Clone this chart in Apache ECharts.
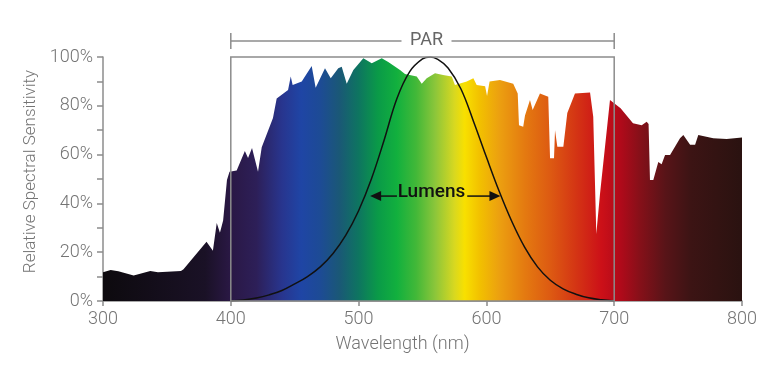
<!DOCTYPE html>
<html>
<head>
<meta charset="utf-8">
<script src="https://cdn.jsdelivr.net/npm/echarts@6/dist/echarts.min.js"></script>
<style>html,body{margin:0;padding:0;background:#fff}#c{width:780px;height:374px}</style>
</head>
<body>
<div id="c"></div>
<script>
// ---- data ----
const specNm = [300,306,312,324,337,343,361,363,381,386,389,391.5,394,397,399,404.6,411,413.5,416.6,421.3,424.2,433,435.9,444.8,446.9,448.4,455.5,463.3,466.4,473.7,478.2,484.1,486.8,490.7,495.9,503.7,510.3,518.1,523.2,532.4,536.3,545.5,549.4,553.3,559.8,566.1,572.9,575.4,584.6,589.8,592.4,599,600.5,602.5,610.6,621,624.5,625.5,628.8,630.2,634.1,636.2,641.9,648.4,649.8,652.9,653.7,655.5,660.2,663.3,669.3,681.1,683.6,686,688.9,696.7,705,714.7,721.5,725.4,726.9,728,730.6,734.5,737.1,739.8,743.7,751.5,754.1,759.4,763.3,765.8,777.5,788,800];
const specPct = [11.8,12.7,12.2,10.4,12.3,11.8,12.3,13,24.3,20.6,32,28,33,49.6,53,53.5,61.5,58.6,62.7,53,63,75,83,86.5,92,88.5,90,96.3,87.4,95.4,91.3,95.4,96,89,94.7,99.5,97.4,99.5,98,94.7,93,92,89,91.3,93.3,92.6,92,88.5,90,91.3,88.5,88,84,90,90.6,89,85,72,71.4,76,82.4,78.3,85,83.7,58.5,58.5,70,63.2,63.2,77,85,85.5,75.5,27.5,44,82.4,79,72.8,72,73.5,72.5,49.6,49.6,57,56,59.8,59.8,66.7,68,64,64,68,66.7,66.4,67];
const lumNm  = [400,410,420,430,440,450,460,470,480,490,500,510,520,530,540,550,556,562,570,580,590,600,610,620,630,640,650,660,670,680,690,700];
const lumPct = [0,0.4,1.2,2.5,4.3,7,10,14,19.5,27,37,50,66,83,94,99.2,100,99,95.5,87,73.5,59,45,32.5,22,14,8.5,5,2.8,1.3,0.5,0];
const xTicks = [300,400,500,600,700,800];
const yTicks = [0,20,40,60,80,100];
const parRange = [400,700];
const lumensArrowLeft = [509,530];
const lumensArrowRight = [585,611];
const lumensLevel = 43;
const lumensLabelAt = [557,44.5];

// ---- styles ----
const gradStops = [
 [0,'#0d0a0e'],[0.16,'#1a1126'],[0.2,'#2a1845'],[0.24,'#2d1f58'],[0.28,'#28358e'],
 [0.31,'#1f45a5'],[0.34,'#1d4b95'],[0.37,'#1a5876'],[0.4,'#0e7560'],[0.43,'#0a9a48'],
 [0.46,'#12b03e'],[0.49,'#42b838'],[0.52,'#8cc63a'],[0.55,'#d8d820'],[0.566,'#f8e000'],
 [0.59,'#f2c000'],[0.62,'#eca010'],[0.66,'#e47a10'],[0.7,'#dd5a12'],[0.74,'#d43514'],
 [0.78,'#cc1018'],[0.81,'#b00a1a'],[0.84,'#861019'],[0.88,'#581418'],[0.92,'#3c1414'],[1,'#2a1210']
];
const grey = '#8c8c8c';
const txt = '#747474';
const FONT = 'Roboto';

const chart = echarts.init(document.getElementById('c'));
const option = {
  animation: false,
  grid: {left: 103, right: 38, top: 57, bottom: 73, containLabel: false},
  xAxis: {
    type: 'value', min: xTicks[0], max: xTicks[xTicks.length-1], interval: 100,
    axisLine: {show: true, lineStyle: {color: grey, width: 1.5}},
    axisTick: {show: true, length: 5, lineStyle: {color: grey, width: 1.5}},
    axisLabel: {color: txt, fontSize: 18, fontFamily: FONT, fontWeight: 300, margin: 9},
    splitLine: {show: false},
    name: 'Wavelength (nm)', nameLocation: 'middle', nameGap: 34,
    nameTextStyle: {color: txt, fontSize: 18, fontFamily: FONT, fontWeight: 300, padding: [0, 40, 0, 0]}
  },
  yAxis: {
    type: 'value', min: yTicks[0], max: yTicks[yTicks.length-1], interval: 20,
    axisLine: {show: true, lineStyle: {color: grey, width: 1.5}},
    axisTick: {show: true, length: 6, lineStyle: {color: grey, width: 1.5}},
    minorTick: {show: true, splitNumber: 2, length: 6, lineStyle: {color: grey, width: 1.5}},
    axisLabel: {color: txt, fontSize: 18, fontFamily: FONT, fontWeight: 300, margin: 10, formatter: '{value}%'},
    splitLine: {show: false},
    name: 'Relative Spectral Sensitivity', nameLocation: 'middle', nameGap: 56,
    nameTextStyle: {color: txt, fontSize: 17, fontFamily: FONT, fontWeight: 300, padding: [0, 0, 0, 15]}
  },
  series: [
    {
      type: 'line', data: specNm.map((x, i) => [x, specPct[i]]),
      symbol: 'none', lineStyle: {width: 0}, z: 2,
      areaStyle: {opacity: 1, color: new echarts.graphic.LinearGradient(0, 0, 1, 0,
        gradStops.map(s => ({offset: s[0], color: s[1]})))}
    },
    {
      type: 'line', data: lumNm.map((x, i) => [x, lumPct[i]]),
      symbol: 'none', smooth: 0.4, z: 3,
      lineStyle: {color: '#111', width: 1.5}
    }
  ]
};
chart.setOption(option);

const p = (x, y) => chart.convertToPixel({gridIndex: 0}, [x, y]);
const [bx0, by0] = p(parRange[0], 100);
const [bx1, by1] = p(parRange[1], 0);
const brY = by0 - 16;
const parCx = (bx0 + bx1) / 2 + 4;
const [la, ly] = p(lumensArrowLeft[0], lumensLevel);
const [lb] = p(lumensArrowLeft[1], lumensLevel);
const [ra] = p(lumensArrowRight[0], lumensLevel);
const [rb] = p(lumensArrowRight[1], lumensLevel);
const [tx, ty] = p(lumensLabelAt[0], lumensLabelAt[1]);
const ls = {stroke: grey, lineWidth: 1.5};
const as = {stroke: '#111', lineWidth: 1.5};
chart.setOption({
  graphic: [
    {type: 'rect', shape: {x: bx0, y: by0, width: bx1 - bx0, height: by1 - by0}, style: {fill: null, stroke: grey, lineWidth: 1.5}, z: 100},
    {type: 'line', shape: {x1: bx0, y1: brY, x2: parCx - 25, y2: brY}, style: ls, z: 100},
    {type: 'line', shape: {x1: parCx + 25, y1: brY, x2: bx1, y2: brY}, style: ls, z: 100},
    {type: 'line', shape: {x1: bx0, y1: brY - 8, x2: bx0, y2: brY + 8}, style: ls, z: 100},
    {type: 'line', shape: {x1: bx1, y1: brY - 8, x2: bx1, y2: brY + 8}, style: ls, z: 100},
    {type: 'text', x: parCx, y: brY - 1, style: {text: 'PAR', fill: '#666', font: '18px ' + FONT, textAlign: 'center', textVerticalAlign: 'middle'}, z: 100},
    {type: 'line', shape: {x1: la + 8, y1: ly, x2: lb, y2: ly}, style: as, z: 100},
    {type: 'polygon', shape: {points: [[la, ly], [la + 11, ly - 5], [la + 11, ly + 5]]}, style: {fill: '#111'}, z: 100},
    {type: 'line', shape: {x1: ra, y1: ly, x2: rb - 8, y2: ly}, style: as, z: 100},
    {type: 'polygon', shape: {points: [[rb, ly], [rb - 11, ly - 5], [rb - 11, ly + 5]]}, style: {fill: '#111'}, z: 100},
    {type: 'text', x: tx, y: ty, style: {text: 'Lumens', fill: '#111', font: '500 19px ' + FONT, textAlign: 'center', textVerticalAlign: 'middle'}, z: 100}
  ]
});
</script>
</body>
</html>
